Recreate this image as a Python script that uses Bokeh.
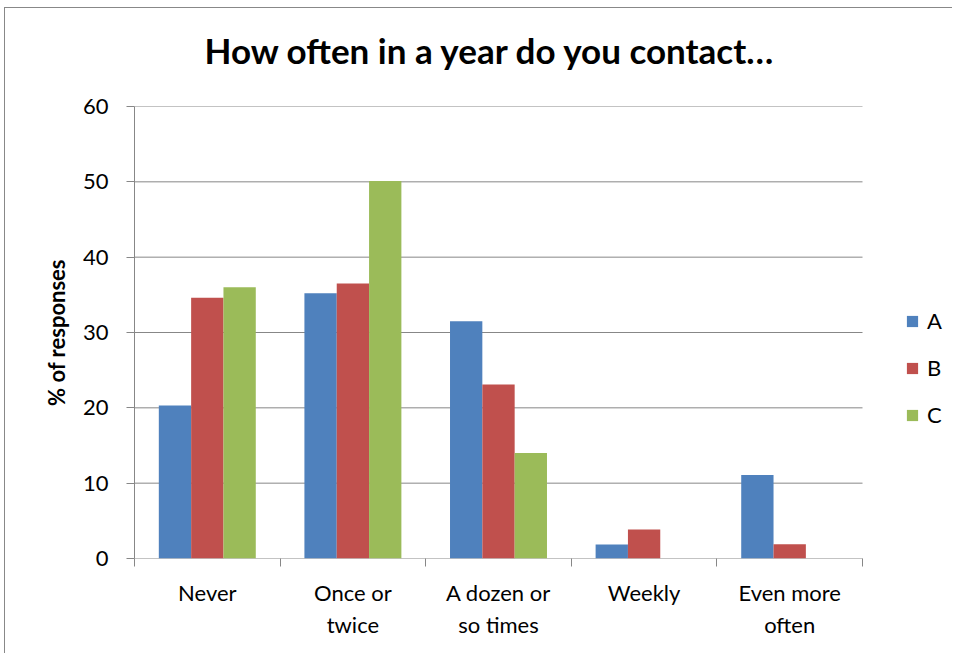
from bokeh.plotting import figure
from bokeh.models import ColumnDataSource, FixedTicker, Legend, LegendItem, Range1d, Title
from bokeh.embed import file_html
from bokeh.resources import INLINE

categories = ["Never", "Once or\ntwice", "A dozen or\nso times", "Weekly", "Even more\noften"]
series_names = ["A", "B", "C"]
values_a = [20.3, 35.2, 31.5, 1.85, 11.1]
values_b = [34.6, 36.5, 23.1, 3.85, 1.9]
values_c = [36.0, 50.1, 14.0, 0.0, 0.0]
colors = ["#4F81BD", "#C0504D", "#9BBB59"]
y_ticks = [0, 10, 20, 30, 40, 50, 60]

FONT = "Lato"
n = len(categories)
centers = [i + 0.5 for i in range(n)]
bw = 0.222
offsets = [-bw, 0.0, bw]

# layout (pixels)
W, H = 948, 646
LEFT, TOP, BOTTOM = 129, 98, 96
PLOT_W = 728            # width of the category area
frame_w = W - LEFT
x_max = n * frame_w / PLOT_W

p = figure(width=W, height=H, output_backend="svg", toolbar_location=None,
           x_range=Range1d(0, x_max), y_range=Range1d(0, 60),
           min_border_left=LEFT, min_border_top=TOP, min_border_right=0, min_border_bottom=BOTTOM)
p.title = None
spacer = Title(text=" ", text_font=FONT, text_font_size="28px", standoff=0)
p.add_layout(spacer, "above")
t = Title(text="How often in a year do you contact…", align="left",
          text_font=FONT, text_font_size="35px", text_font_style="bold",
          text_color="#000000", standoff=0, offset=70)
p.add_layout(t, "above")

p.outline_line_color = None
p.background_fill_color = "white"
p.border_fill_color = "white"
p.xgrid.grid_line_color = None
p.ygrid.grid_line_color = None

# horizontal gridlines only across the category area
p.segment(x0=[0] * len(y_ticks), x1=[n] * len(y_ticks), y0=y_ticks, y1=y_ticks,
          line_color="#878787", line_width=1)

renderers = []
for vals, off, col in zip([values_a, values_b, values_c], offsets, colors):
    src = ColumnDataSource(dict(x=[c + off for c in centers], top=vals))
    r = p.vbar(x="x", top="top", bottom=0, width=bw, source=src,
               fill_color=col, line_color=None)
    renderers.append(r)

# y axis
p.yaxis.ticker = FixedTicker(ticks=y_ticks)
p.yaxis.axis_line_color = "#878787"
p.yaxis.major_tick_line_color = "#878787"
p.yaxis.major_tick_in = 0
p.yaxis.major_tick_out = 8
p.yaxis.minor_tick_line_color = None
p.yaxis.major_label_standoff = 18
p.yaxis.major_label_text_font = FONT
p.yaxis.major_label_text_font_size = "22px"
p.yaxis.major_label_text_color = "#000000"
p.yaxis.axis_label = "% of responses"
p.yaxis.axis_label_text_font = FONT
p.yaxis.axis_label_text_font_size = "22px"
p.yaxis.axis_label_text_font_style = "bold"
p.yaxis.axis_label_text_color = "#000000"
p.yaxis.axis_label_standoff = 10

# x axis (line drawn as glyph so it stops at the category area)
p.xaxis.ticker = FixedTicker(ticks=centers, minor_ticks=list(range(n + 1)))
p.xaxis.major_label_overrides = {c: lab for c, lab in zip(centers, categories)}
p.xaxis.axis_line_color = None
p.xaxis.major_tick_line_color = None
p.xaxis.major_tick_in = 0
p.xaxis.major_tick_out = 8
p.xaxis.minor_tick_line_color = "#878787"
p.xaxis.minor_tick_in = 0
p.xaxis.minor_tick_out = 8
p.xaxis.major_label_standoff = 12
p.xaxis.major_label_text_font = FONT
p.xaxis.major_label_text_font_size = "22px"
p.xaxis.major_label_text_color = "#000000"
p.xaxis.major_label_text_line_height = 1.22

legend = Legend(items=[LegendItem(label=nm, renderers=[r]) for nm, r in zip(series_names, renderers)],
                location=(905 - 134, 130), orientation="vertical",
                label_text_font=FONT, label_text_font_size="22px", label_text_color="#000000",
                glyph_width=14, glyph_height=14, label_height=22, spacing=20,
                label_standoff=8, padding=0, margin=0,
                border_line_color=None, background_fill_alpha=0)
p.add_layout(legend, "center")

p.styles = {"border-left": "1px solid #888888", "border-top": "1px solid #888888",
            "margin-left": "4px", "margin-top": "7px"}

open("out.html", "w").write(file_html(p, INLINE))
